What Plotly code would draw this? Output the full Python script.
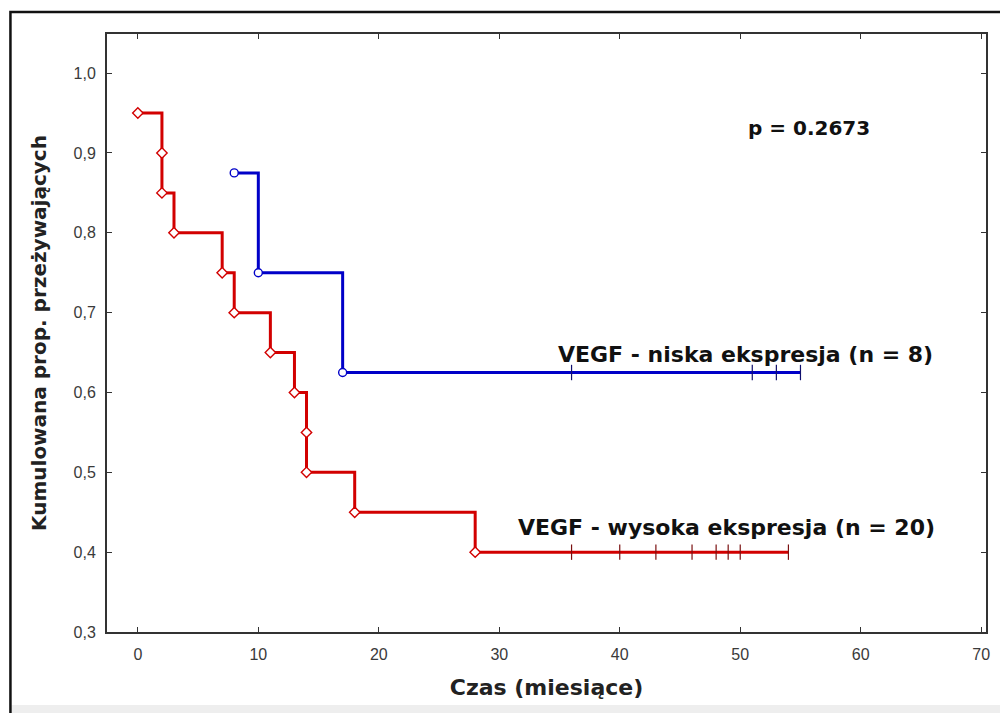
import plotly.graph_objects as go

# Kaplan-Meier data: event times with survival after each event, plus censored times
high_event_t = [0, 2, 2, 3, 7, 8, 11, 13, 14, 14, 18, 28]
high_event_s = [0.95, 0.90, 0.85, 0.80, 0.75, 0.70, 0.65, 0.60, 0.55, 0.50, 0.45, 0.40]
high_censor_t = [36, 40, 43, 46, 48, 49, 50, 54]

low_event_t = [8, 10, 17]
low_event_s = [0.875, 0.75, 0.625]
low_censor_t = [36, 51, 53, 55]

x_ticks = [0, 10, 20, 30, 40, 50, 60, 70]
y_ticks = [0.3, 0.4, 0.5, 0.6, 0.7, 0.8, 0.9, 1.0]

RED = "#d20000"
BLUE = "#0000c8"
RED_DARK = "#7a1010"
BLUE_DARK = "#10106e"

fig = go.Figure()


def add_curve(ev_t, ev_s, cen_t, color, dark, symbol):
    last = ev_s[-1]
    end_t = max(cen_t)
    fig.add_trace(go.Scatter(
        x=ev_t + [end_t], y=ev_s + [last], mode="lines",
        line=dict(color=color, width=3, shape="hv"),
        hoverinfo="skip", showlegend=False))
    fig.add_trace(go.Scatter(
        x=cen_t, y=[last] * len(cen_t), mode="markers",
        marker=dict(symbol="line-ns", size=11, line=dict(color=dark, width=1.2)),
        showlegend=False))
    fig.add_trace(go.Scatter(
        x=ev_t, y=ev_s, mode="markers",
        marker=dict(symbol=symbol, size=8, color="white",
                    line=dict(color=color, width=1.4)),
        showlegend=False))


add_curve(high_event_t, high_event_s, high_censor_t, RED, RED_DARK, "diamond")
add_curve(low_event_t, low_event_s, low_censor_t, BLUE, BLUE_DARK, "circle")

p_font = dict(family="DejaVu Sans, Verdana, sans-serif", size=20, color="#111111")
label_font = dict(family="DejaVu Sans, Verdana, sans-serif", size=22, color="#111111")
fig.add_annotation(x=55.7, y=0.931, text="<b>p = 0.2673</b>", showarrow=False,
                   font=p_font, xanchor="center", yanchor="middle")
fig.add_annotation(x=66.2, y=0.647, text="<b>VEGF - niska ekspresja (n = 8)</b>",
                   showarrow=False, font=label_font, xanchor="right", yanchor="middle")
fig.add_annotation(x=66.3, y=0.4315, text="<b>VEGF - wysoka ekspresja (n = 20)</b>",
                   showarrow=False, font=label_font, xanchor="right", yanchor="middle")

W, H = 1000, 713
ml, mr, mt, mb = 107, 10, 34, 81
pw, ph = W - ml - mr, H - mt - mb


def px_x(p):
    return (p - ml) / pw


def px_y(p):
    return 1 - (p - mt) / ph


# light strip along the bottom and the outer frame
fig.add_shape(type="rect", xref="paper", yref="paper",
              x0=px_x(11), x1=px_x(1005), y0=px_y(720), y1=px_y(705),
              fillcolor="#eeeeee", line=dict(width=0), layer="below")
fig.add_shape(type="rect", xref="paper", yref="paper",
              x0=px_x(10), x1=px_x(1010), y0=px_y(730), y1=px_y(12),
              line=dict(color="#111111", width=2.5), fillcolor="rgba(0,0,0,0)")

tick_font = dict(family="Liberation Sans, Arial, sans-serif", size=16, color="#3a3a3a")
x_title_font = dict(family="DejaVu Sans, Verdana, sans-serif", size=22, color="#222222")
y_title_font = dict(family="DejaVu Sans, Verdana, sans-serif", size=20, color="#222222")
axis_common = dict(showline=True, linecolor="#333333", linewidth=2, mirror="ticks",
                   ticks="inside", ticklen=5, tickwidth=1.2, tickcolor="#333333",
                   showgrid=False, zeroline=False, tickfont=tick_font)

fig.update_layout(
    width=W, height=H, separators=", ",
    margin=dict(l=ml, r=mr, t=mt, b=mb),
    paper_bgcolor="white", plot_bgcolor="white",
    xaxis=dict(range=[-2.56, 70.4], tickvals=x_ticks, ticklabelstandoff=7, **axis_common,
               title=dict(text="<b>Czas (miesiące)</b>", standoff=17, font=x_title_font)),
    yaxis=dict(range=[0.3, 1.049], tickvals=y_ticks, tickformat=".1f",
               ticklabelstandoff=6, **axis_common,
               title=dict(text="<b>Kumulowana prop. przeżywających</b>", standoff=22,
                          font=y_title_font)),
)

fig.write_html("out.html")
